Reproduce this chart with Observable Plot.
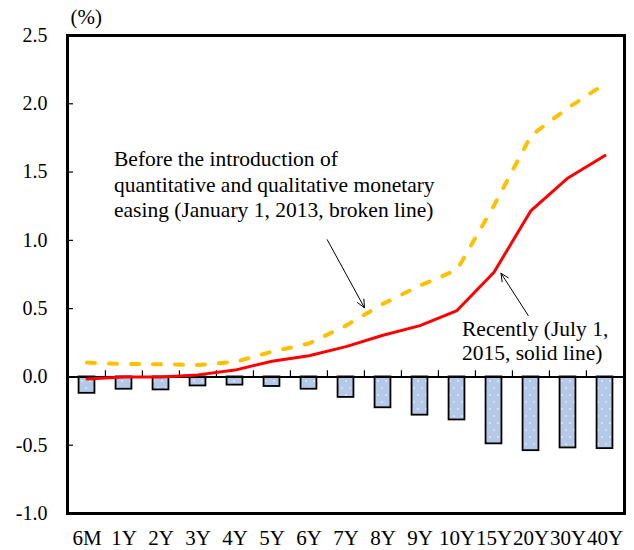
<!DOCTYPE html>
<html>
<head>
<meta charset="utf-8">
<script src="https://cdn.jsdelivr.net/npm/d3@7"></script>
<script src="https://cdn.jsdelivr.net/npm/@observablehq/plot@0.6"></script>
<style>
  html, body { margin: 0; padding: 0; background: #fff; }
  #chart { width: 634px; height: 550px; }
  #chart svg, #chart svg text { font-family: "Liberation Serif", "Times New Roman", serif !important; }
</style>
</head>
<body>
<div id="chart"></div>
<script>
const categories = ["6M","1Y","2Y","3Y","4Y","5Y","6Y","7Y","8Y","9Y","10Y","15Y","20Y","30Y","40Y"];
const recent = [-0.015, 0.0, 0.0, 0.015, 0.05, 0.115, 0.155, 0.222, 0.305, 0.376, 0.486, 0.767, 1.218, 1.457, 1.621];
const before = [0.105, 0.095, 0.093, 0.087, 0.11, 0.185, 0.245, 0.376, 0.535, 0.669, 0.784, 1.255, 1.767, 1.97, 2.146];
const change = [-0.12, -0.09, -0.095, -0.066, -0.06, -0.07, -0.09, -0.15, -0.226, -0.28, -0.315, -0.49, -0.54, -0.52, -0.525];
const yTicks = [-1.0, -0.5, 0.0, 0.5, 1.0, 1.5, 2.0, 2.5];

const noteBefore = "Before the introduction of\nquantitative and qualitative monetary\neasing (January 1, 2013, broken line)";
const noteRecent = "Recently (July 1,\n2015, solid line)";

const table = categories.map((term, i) => ({term, recent: recent[i], before: before[i], change: change[i]}));

const W = 634, H = 550, ML = 67, MR = 10, MT = 35, MB = 37;
const bw = (W - ML - MR) / categories.length;
const font = "Liberation Serif";

const chart = Plot.plot({
  width: W,
  height: H,
  marginLeft: ML,
  marginRight: MR,
  marginTop: MT,
  marginBottom: MB,
  style: {fontFamily: font, background: "white", color: "black"},
  x: {type: "band", domain: categories, padding: 0, label: null},
  y: {domain: [-1, 2.5], label: null},
  marks: [
    Plot.barY(table, {x: "term", y: "change", fill: "url(#dots)", stroke: "black", strokeWidth: 1.8,
      insetLeft: (bw - 16) / 2, insetRight: (bw - 16) / 2}),
    Plot.ruleY([0], {stroke: "black", strokeWidth: 2}),
    Plot.ruleX(categories.slice(1), {x: d => d, y1: 0, y2: 0.045, dx: -bw / 2, stroke: "black", strokeWidth: 1.2}),
    Plot.lineY(table, {x: "term", y: "before", stroke: "#ffc000", strokeWidth: 4,
      strokeDasharray: "8,14", strokeLinecap: "round"}),
    Plot.lineY(table, {x: "term", y: "recent", stroke: "#ff0000", strokeWidth: 3}),
    Plot.arrow([0], {x1: () => "6Y", y1: () => 1.249, x2: () => "8Y", y2: () => 0.258,
      insetStart: 38, insetEnd: 38.7, stroke: "black", strokeWidth: 1, headLength: 13, headAngle: 50}),
    Plot.arrow([0], {x1: () => "20Y", y1: () => 0.418, x2: () => "15Y", y2: () => 0.839,
      insetStart: 5.2, insetEnd: 12.9, stroke: "black", strokeWidth: 1, headLength: 13, headAngle: 50}),
    Plot.text([noteBefore], {x: () => "1Y", y: () => 1.672, text: d => d, dx: -10,
      textAnchor: "start", lineAnchor: "top", lineHeight: 1.17, fontSize: 21.5, fontFamily: font, fill: "black"}),
    Plot.text([noteRecent], {x: () => "10Y", y: () => 0.427, text: d => d, dx: 5,
      textAnchor: "start", lineAnchor: "top", lineHeight: 1.12, fontSize: 21.5, fontFamily: font, fill: "black"}),
    Plot.axisY(yTicks, {anchor: "left", tickSize: -6, tickPadding: 26, tickFormat: d => d.toFixed(1),
      fontSize: 20, fontFamily: font, label: null, strokeWidth: 1.2}),
    Plot.axisX({anchor: "bottom", tickSize: 0, tickPadding: 17, fontSize: 21, fontFamily: font, label: null}),
    Plot.frame({stroke: "black", strokeWidth: 3}),
    Plot.text(["(%)"], {frameAnchor: "top-left", text: d => d, dx: 3, dy: -18, textAnchor: "start",
      lineAnchor: "middle", fontSize: 21, fontFamily: font, fill: "black"})
  ]
});

// dotted pattern for the bars
const svg = d3.select(chart.tagName.toLowerCase() === "svg" ? chart : chart.querySelector("svg"));
const defs = svg.insert("defs", ":first-child");
const pat = defs.append("pattern").attr("id", "dots").attr("patternUnits", "userSpaceOnUse")
  .attr("width", 8).attr("height", 14);
pat.append("rect").attr("width", 8).attr("height", 14).attr("fill", "#b4c8e8");
pat.append("circle").attr("cx", 2).attr("cy", 3).attr("r", 0.8).attr("fill", "white");
pat.append("circle").attr("cx", 6).attr("cy", 10).attr("r", 0.8).attr("fill", "white");

document.getElementById("chart").appendChild(chart);
</script>
</body>
</html>
